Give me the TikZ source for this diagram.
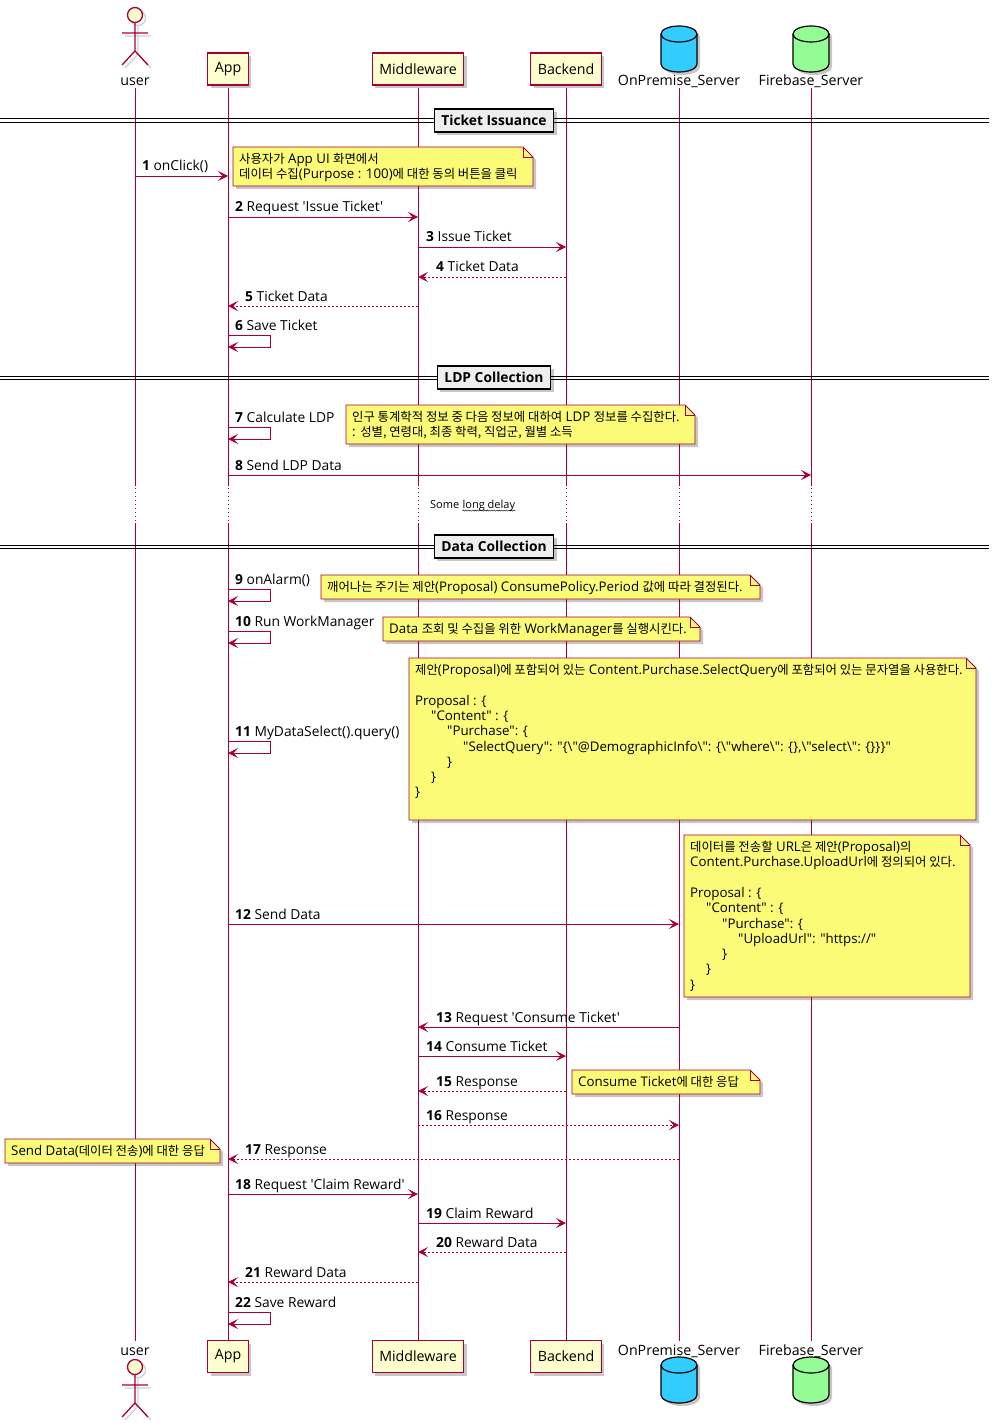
\documentclass[tikz,border=0pt]{standalone}
\usepackage{fontspec}
\usetikzlibrary{arrows.meta,shadows,decorations.pathmorphing}
\newfontfamily\ff{Open Sans}
\newfontfamily\krfont{Noto Sans CJK KR}[Scale=0.93]
\newcommand\kr[1]{{\krfont #1}}
\definecolor{lc}{HTML}{A80036}
\definecolor{partfill}{HTML}{FEFECE}
\definecolor{notefill}{HTML}{FBFB77}
\definecolor{divfill}{HTML}{EEEEEE}
\definecolor{cblue}{HTML}{33CCFF}
\definecolor{cgreen}{HTML}{94FC94}
\tikzset{
 shd/.style={drop shadow={shadow xshift=3pt,shadow yshift=-3pt,opacity=0.22,fill=black}},
 life/.style={draw=lc,line width=0.8pt},
 lifedot/.style={draw=lc,line width=0.8pt,dash pattern=on 0.8pt off 3.2pt},
 msg/.style={draw=lc,line width=0.9pt,-{Stealth[length=10pt,width=10pt,inset=4.5pt]}},
 ret/.style={msg,dash pattern=on 2pt off 2pt},
 lbl/.style={anchor=base west,inner sep=0pt,text=black},
 part/.style={draw=lc,fill=partfill,line width=1.1pt,minimum height=32pt,inner xsep=7pt,inner ysep=0pt,font=\ff\fontsize{14.2}{16}\selectfont,shd},
 plabel/.style={anchor=base,inner sep=0pt,font=\ff\fontsize{14.2}{16}\selectfont},
 divbox/.style={draw=black,fill=divfill,line width=1.4pt,minimum height=23pt,inner xsep=7pt,inner ysep=0pt,font=\ff\bfseries\fontsize{13.8}{15}\selectfont,shd},
 notebg/.style={draw=lc,fill=notefill,line width=0.9pt,shd},
 notefold/.style={draw=lc,line width=0.9pt},
 notetext/.style={anchor=north west,inner sep=0pt,align=left,font=\ff\fontsize{13.3}{15.3}\selectfont},
 dly/.style={anchor=base west,inner sep=0pt,font=\ff\fontsize{11}{13}\selectfont},
 actorline/.style={draw=lc,line width=1.3pt},
}
% x1, y1, x2, y2, name, text
\newcommand\notebox[6]{%
 \filldraw[notebg] (#1,-#2) -- (#3-10,-#2) -- (#3,-#2-10) -- (#3,-#4) -- (#1,-#4) -- cycle;
 \draw[notefold] (#3-10,-#2) -- (#3-10,-#2-10) -- (#3,-#2-10);
 \node[notetext] (#5) at (#1+6,-#2-6) {#6};
}
% y, name, text
\newcommand\divider[3]{%
 \draw[black,line width=0.8pt] (0,-#1+1.6) -- (989,-#1+1.6) (0,-#1-1.6) -- (989,-#1-1.6);
 \node[divbox] (#2) at (494,-#1) {#3};
}
% cx, y of top ellipse centre, colour
\newcommand\cyl[3]{%
 \filldraw[draw=black,line width=1.2pt,fill=#3,shd] (#1-18,-#2) -- (#1-18,-#2-30)
   arc[start angle=180,end angle=360,x radius=18,y radius=8] -- (#1+18,-#2)
   arc[start angle=0,end angle=180,x radius=18,y radius=8] -- cycle;
 \draw[black,line width=1.2pt] (#1-18,-#2) arc[start angle=180,end angle=360,x radius=18,y radius=8];
}
% cx, y of head centre
\newcommand\actorfig[2]{%
 \begin{scope}[shift={(3,-3)},draw=black!18,line width=1.3pt]
  \draw (#1,-#2) circle (7.5);
  \draw (#1,-#2-7.5) -- (#1,-#2-36) (#1-13,-#2-18) -- (#1+13,-#2-18)
        (#1-13,-#2-50) -- (#1,-#2-36) -- (#1+13,-#2-50);
 \end{scope}
 \filldraw[actorline,fill=partfill] (#1,-#2) circle (7.5);
 \draw[actorline] (#1,-#2-7.5) -- (#1,-#2-36) (#1-13,-#2-18) -- (#1+13,-#2-18)
        (#1-13,-#2-50) -- (#1,-#2-36) -- (#1+13,-#2-50);
}
\begin{document}
\begin{tikzpicture}[x=1pt,y=1pt,font=\ff\fontsize{13.8}{15.3}\selectfont]
\useasboundingbox (0,0) rectangle (995,-1423);
\fill[white] (0,0) rectangle (995,-1423);

% lifeline positions
\coordinate (user) at (135,0);
\coordinate (app) at (228,0);
\coordinate (mid) at (418,0);
\coordinate (be) at (566,0);
\coordinate (onp) at (679,0);
\coordinate (fb) at (811,0);

% lifelines
\foreach \n in {user,app,mid,be,onp,fb}{
  \draw[life] (\n |- 0,-88) -- (\n |- 0,-486);
  \draw[lifedot] (\n |- 0,-488) -- (\n |- 0,-522);
  \draw[life] (\n |- 0,-523) -- (\n |- 0,-1341);
}

% dividers
\divider{120.5}{d1}{Ticket Issuance}
\divider{377.5}{d2}{LDP Collection}
\divider{546.5}{d3}{Data Collection}

% delay
\node[dly] (dla) at (430,-508) {Some};
\node[dly] (dlb) at ([xshift=3pt]dla.base east) {long delay};
\draw[decorate,decoration={snake,amplitude=0.6pt,segment length=2.4pt},black,line width=0.4pt]
  ([yshift=-2.6pt]dlb.base west) -- ([yshift=-2.6pt]dlb.base east);

% messages
\draw[msg] (user |- 0,-176) -- (app |- 0,-176);
\node[lbl] (m1) at (142,-171) {\textbf{1} onClick()};
\draw[msg] (app |- 0,-217) -- (mid |- 0,-217);
\node[lbl] (m2) at (235,-212) {\textbf{2} Request 'Issue Ticket'};
\draw[msg] (mid |- 0,-247) -- (be |- 0,-247);
\node[lbl] (m3) at (426,-242) {\textbf{3} Issue Ticket};
\draw[ret] (be |- 0,-277) -- (mid |- 0,-277);
\node[lbl] (m4) at (436,-272) {\textbf{4} Ticket Data};
\draw[ret] (mid |- 0,-306) -- (app |- 0,-306);
\node[lbl] (m5) at (245,-301) {\textbf{5} Ticket Data};
\draw[msg] (app |- 0,-335) -- ++(42,0) -- ++(0,-12) -- (app |- 0,-347);
\node[lbl] (m6) at (235,-330) {\textbf{6} Save Ticket};

\draw[msg] (app |- 0,-427) -- ++(42,0) -- ++(0,-12) -- (app |- 0,-439);
\node[lbl] (m7) at (235,-422) {\textbf{7} Calculate LDP};
\draw[msg] (app |- 0,-475) -- (fb |- 0,-475);
\node[lbl] (m8) at (235,-470) {\textbf{8} Send LDP Data};

\draw[msg] (app |- 0,-589) -- ++(42,0) -- ++(0,-12) -- (app |- 0,-601);
\node[lbl] (m9) at (235,-584) {\textbf{9} onAlarm()};
\draw[msg] (app |- 0,-631) -- ++(42,0) -- ++(0,-12) -- (app |- 0,-643);
\node[lbl] (m10) at (235,-626) {\textbf{10} Run WorkManager};
\draw[msg] (app |- 0,-741) -- ++(42,0) -- ++(0,-12) -- (app |- 0,-753);
\node[lbl] (m11) at (235,-736) {\textbf{11} MyDataSelect().query()};
\draw[msg] (app |- 0,-924) -- (onp |- 0,-924);
\node[lbl] (m12) at (235,-919) {\textbf{12} Send Data};
\draw[msg] (onp |- 0,-1027) -- (mid |- 0,-1027);
\node[lbl] (m13) at (436,-1022) {\textbf{13} Request 'Consume Ticket'};
\draw[msg] (mid |- 0,-1056) -- (be |- 0,-1056);
\node[lbl] (m14) at (426,-1051) {\textbf{14} Consume Ticket};
\draw[ret] (be |- 0,-1091) -- (mid |- 0,-1091);
\node[lbl] (m15) at (436,-1086) {\textbf{15} Response};
\draw[ret] (mid |- 0,-1125) -- (onp |- 0,-1125);
\node[lbl] (m16) at (426,-1120) {\textbf{16} Response};
\draw[ret] (onp |- 0,-1159) -- (app |- 0,-1159);
\node[lbl] (m17) at (245,-1154) {\textbf{17} Response};
\draw[msg] (app |- 0,-1194) -- (mid |- 0,-1194);
\node[lbl] (m18) at (235,-1189) {\textbf{18} Request 'Claim Reward'};
\draw[msg] (mid |- 0,-1223) -- (be |- 0,-1223);
\node[lbl] (m19) at (426,-1218) {\textbf{19} Claim Reward};
\draw[ret] (be |- 0,-1252) -- (mid |- 0,-1252);
\node[lbl] (m20) at (436,-1247) {\textbf{20} Reward Data};
\draw[ret] (mid |- 0,-1282) -- (app |- 0,-1282);
\node[lbl] (m21) at (245,-1277) {\textbf{21} Reward Data};
\draw[msg] (app |- 0,-1312) -- ++(42,0) -- ++(0,-12) -- (app |- 0,-1324);
\node[lbl] (m22) at (235,-1307) {\textbf{22} Save Reward};

% notes
\notebox{233}{147}{533}{186}{n1}{\kr{사용자가} App UI \kr{화면에서}\\\kr{데이터 수집}(Purpose : 100)\kr{에 대한 동의 버튼을 클릭}}
\notebox{346}{405}{695}{444}{n7}{\kr{인구 통계학적 정보 중 다음 정보에 대하여} LDP \kr{정보를 수집한다.}\\: \kr{성별, 연령대, 최종 학력, 직업군, 월별 소득}}
\notebox{321}{575}{760}{599}{n9}{\kr{깨어나는 주기는 제안}(Proposal) ConsumePolicy.Period \kr{값에 따라 결정된다.}}
\notebox{383}{617}{700}{641}{n10}{Data \kr{조회 및 수집을 위한} WorkManager\kr{를 실행시킨다.}}
\notebox{409}{658}{976}{820}{n11}{\kr{제안}(Proposal)\kr{에 포함되어 있는} Content.Purchase.SelectQuery\kr{에 포함되어 있는 문자열을 사용한다.}\\[15.3pt]
Proposal : \{\\
\hspace*{16pt}"Content" : \{\\
\hspace*{32pt}"Purchase": \{\\
\hspace*{48pt}"SelectQuery": "\{\textbackslash"@DemographicInfo\textbackslash": \{\textbackslash"where\textbackslash": \{\},\textbackslash"select\textbackslash": \{\}\}\}"\\
\hspace*{32pt}\}\\
\hspace*{16pt}\}\\
\}}
\notebox{684}{835}{970}{997}{n12}{\kr{데이터를 전송할} URL\kr{은 제안}(Proposal)\kr{의}\\Content.Purchase.UploadUrl\kr{에 정의되어 있다.}\\[15.3pt]
Proposal : \{\\
\hspace*{16pt}"Content" : \{\\
\hspace*{32pt}"Purchase": \{\\
\hspace*{48pt}"UploadUrl": "https://"\\
\hspace*{32pt}\}\\
\hspace*{16pt}\}\\
\}}
\notebox{572}{1070}{760}{1094}{n15}{Consume Ticket\kr{에 대한 응답}}
\notebox{5}{1139}{220}{1163}{n17}{Send Data(\kr{데이터 전송})\kr{에 대한 응답}}

% participants top
\actorfig{135}{15}
\node[plabel] (userlbl) at (135,-86) {user};
\node[part] (appt) at (app |- 0,-69) {App};
\node[part] (midt) at (mid |- 0,-69) {Middleware};
\node[part] (bet) at (be |- 0,-69) {Backend};
\cyl{679}{34}{cblue}
\node[plabel] (onplbl) at (onp |- 0,-86) {OnPremise\_Server};
\cyl{811}{34}{cgreen}
\node[plabel] (fblbl) at (fb |- 0,-86) {Firebase\_Server};

% participants bottom
\node[plabel] (userlblb) at (user |- 0,-1355) {user};
\actorfig{135}{1367}
\node[part] (appb) at (app |- 0,-1356.5) {App};
\node[part] (midb) at (mid |- 0,-1356.5) {Middleware};
\node[part] (beb) at (be |- 0,-1356.5) {Backend};
\node[plabel] (onplblb) at (onp |- 0,-1355) {OnPremise\_Server};
\cyl{679}{1365}{cblue}
\node[plabel] (fblblb) at (fb |- 0,-1355) {Firebase\_Server};
\cyl{811}{1365}{cgreen}
\end{tikzpicture}
\end{document}
